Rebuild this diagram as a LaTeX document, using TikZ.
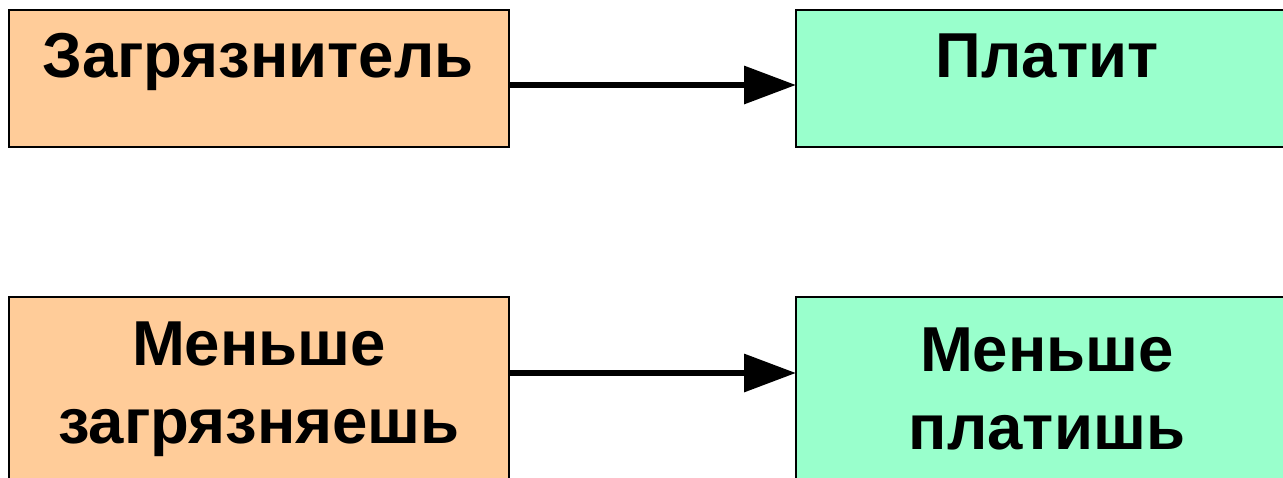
\documentclass[tikz,border=0pt]{standalone}
\usepackage{fontspec}
\setmainfont{Liberation Sans}
\usetikzlibrary{arrows.meta}
\definecolor{boxorange}{HTML}{FFCC99}
\definecolor{boxgreen}{HTML}{99FFCC}
\tikzset{
  box/.style={draw=black, line width=2.2pt, minimum width=#1, inner sep=0pt, outer sep=0pt},
  orangebox/.style={box=500pt, fill=boxorange},
  greenbox/.style={box=502pt, fill=boxgreen},
  lbl/.style={font=\fontsize{63.5}{78}\selectfont\bfseries, align=center, inner sep=0pt},
  conn/.style={line width=6.5pt, -{Triangle[length=52pt,width=37pt]}},
}
\begin{document}
\begin{tikzpicture}[x=1pt,y=-1pt]
\useasboundingbox (0,0) rectangle (1283,477);
\clip (0,0) rectangle (1283,477);
\fill[white] (0,0) rectangle (1283,477);
% top row
\node[orangebox, minimum height=137pt] (a) at (259,78.5) {};
\node[greenbox, minimum height=137pt] (b) at (1047,78.5) {};
\node[lbl, anchor=base] (ta) at (258,77) {Загрязнитель};
\node[lbl, anchor=base] (tb) at (1047,77) {Платит};
% bottom row
\node[orangebox, minimum height=220pt] (c) at (259,407) {};
\node[greenbox, minimum height=220pt] (d) at (1047,407) {};
\node[lbl] (tc) at (259,389) {Меньше\\загрязняешь};
\node[lbl] (td) at (1047,389) {Меньше\\платишь};
% connectors
\coordinate (r1) at (0,85);
\coordinate (r2) at (0,373);
\draw[conn] (a.east |- r1) -- (b.west |- r1);
\draw[conn] (c.east |- r2) -- (d.west |- r2);
\end{tikzpicture}
\end{document}
